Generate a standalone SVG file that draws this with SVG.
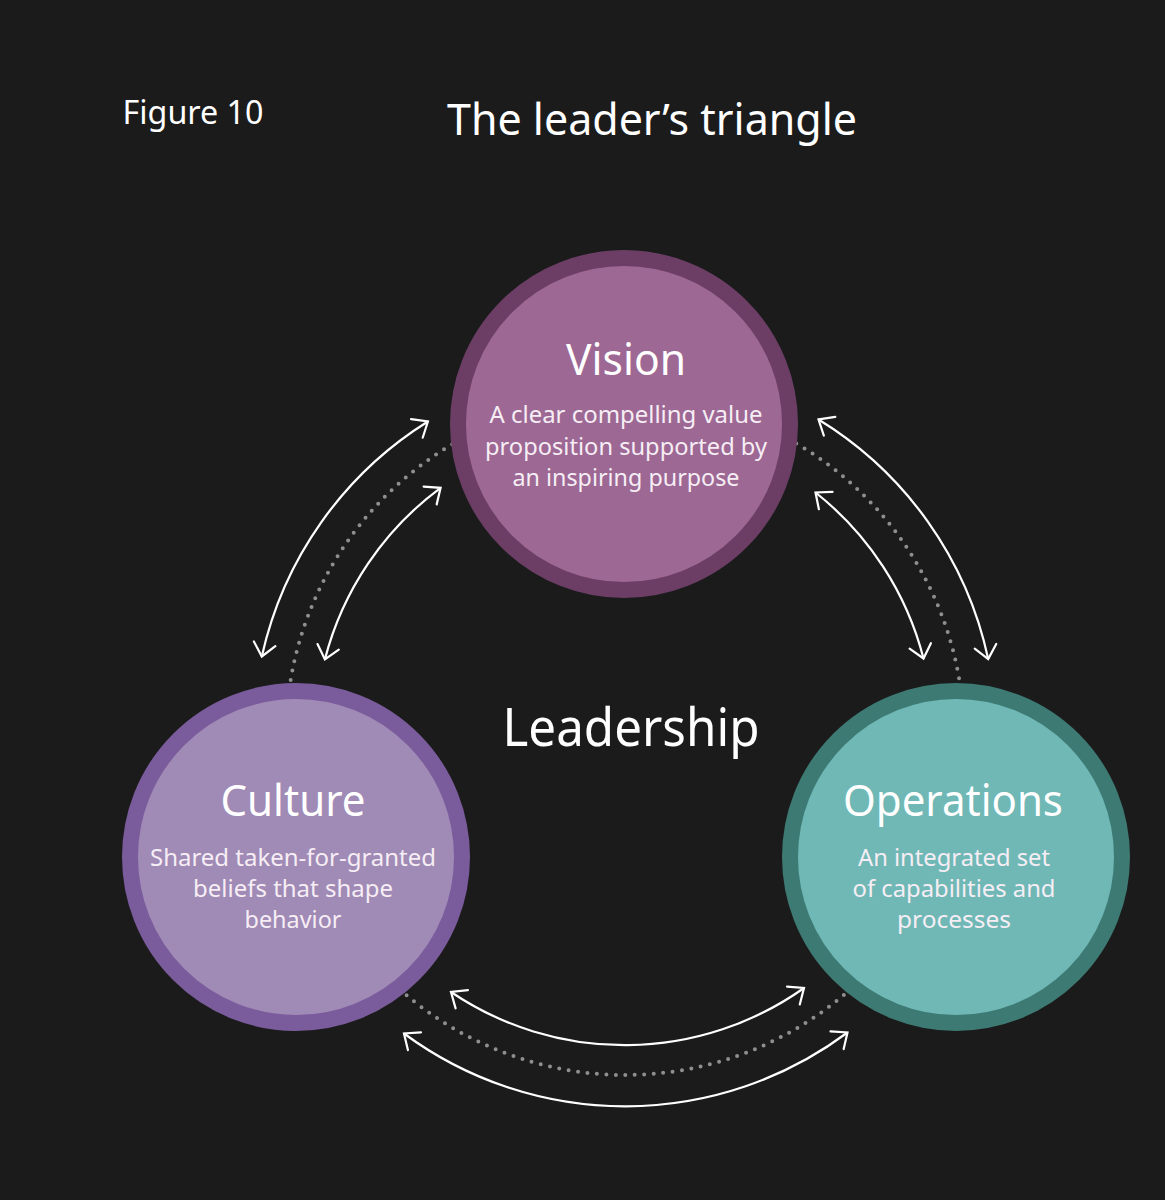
<svg xmlns="http://www.w3.org/2000/svg" width="1165" height="1200" viewBox="0 0 1165 1200">
<style>
  .t { font-family: "Noto Sans", "Liberation Sans", sans-serif; text-anchor: middle; }
  .head { fill: #ffffff; font-size: 44px; }
  .sub { fill: #f6eef4; font-size: 24px; }
  .arrow { fill: none; stroke: #ffffff; stroke-width: 2.2; marker-start: url(#ah); marker-end: url(#ah); }
  .dots { fill: none; stroke: #8f8f8f; stroke-width: 4; stroke-linecap: round; stroke-dasharray: 0 9.5; }
</style>
<defs>
  <marker id="ah" markerUnits="userSpaceOnUse" viewBox="-16 -14 20 28" markerWidth="20" markerHeight="28" refX="0" refY="0" orient="auto-start-reverse">
    <path d="M -13 -11 L 0 0 L -13 11" fill="none" stroke="#ffffff" stroke-width="2.2" stroke-linecap="round" stroke-linejoin="miter"/>
  </marker>
</defs>
<rect width="1165" height="1200" fill="#1b1b1b"/>
<text class="t" x="193" y="124" font-size="32" fill="#ffffff" textLength="141" lengthAdjust="spacingAndGlyphs">Figure 10</text>
<text class="t" x="652" y="135" font-size="44" fill="#ffffff" textLength="410" lengthAdjust="spacingAndGlyphs">The leader’s triangle</text>

<g id="connectors">
  <circle class="dots" cx="625" cy="736" r="339"/>
  <path class="arrow" d="M 427.9 421.5 A 372 372 0 0 0 261.8 656.5"/>
  <path class="arrow" d="M 440.6 487.8 A 310 310 0 0 0 324.9 659.4"/>
  <path class="arrow" d="M 818.5 419.5 A 372 372 0 0 1 988.2 659"/>
  <path class="arrow" d="M 815.5 492.5 A 310 310 0 0 1 923.5 658.5"/>
  <path class="arrow" d="M 451 992 A 310 310 0 0 0 804 988"/>
  <path class="arrow" d="M 404 1033.5 A 372 372 0 0 0 847.5 1032.5"/>
</g>

<g id="vision">
  <circle cx="624" cy="424" r="166" fill="#9d6894" stroke="#6c3e65" stroke-width="16"/>
  <text class="t head" x="626" y="375" textLength="120" lengthAdjust="spacingAndGlyphs">Vision</text>
  <text class="t sub" x="626" y="423" textLength="273" lengthAdjust="spacingAndGlyphs">A clear compelling value</text>
  <text class="t sub" x="626" y="455" textLength="282" lengthAdjust="spacingAndGlyphs">proposition supported by</text>
  <text class="t sub" x="626" y="486" textLength="227" lengthAdjust="spacingAndGlyphs">an inspiring purpose</text>
</g>

<g id="culture">
  <circle cx="296" cy="857" r="166" fill="#a08ab6" stroke="#7a5b9b" stroke-width="16"/>
  <text class="t head" x="293" y="816" textLength="145" lengthAdjust="spacingAndGlyphs">Culture</text>
  <text class="t sub" x="293" y="866" textLength="286" lengthAdjust="spacingAndGlyphs">Shared taken-for-granted</text>
  <text class="t sub" x="293" y="897" textLength="200" lengthAdjust="spacingAndGlyphs">beliefs that shape</text>
  <text class="t sub" x="293" y="928" textLength="97" lengthAdjust="spacingAndGlyphs">behavior</text>
</g>

<g id="operations">
  <circle cx="956" cy="857" r="166" fill="#6fb8b6" stroke="#3d7a73" stroke-width="16"/>
  <text class="t head" x="953" y="816" textLength="220" lengthAdjust="spacingAndGlyphs">Operations</text>
  <text class="t sub" x="954" y="866" textLength="192" lengthAdjust="spacingAndGlyphs">An integrated set</text>
  <text class="t sub" x="954" y="897" textLength="203" lengthAdjust="spacingAndGlyphs">of capabilities and</text>
  <text class="t sub" x="954" y="928" textLength="114" lengthAdjust="spacingAndGlyphs">processes</text>
</g>

<g id="leadership">
  <text class="t" x="631" y="746" font-size="52" fill="#ffffff" textLength="257" lengthAdjust="spacingAndGlyphs">Leadership</text>
</g>
</svg>
